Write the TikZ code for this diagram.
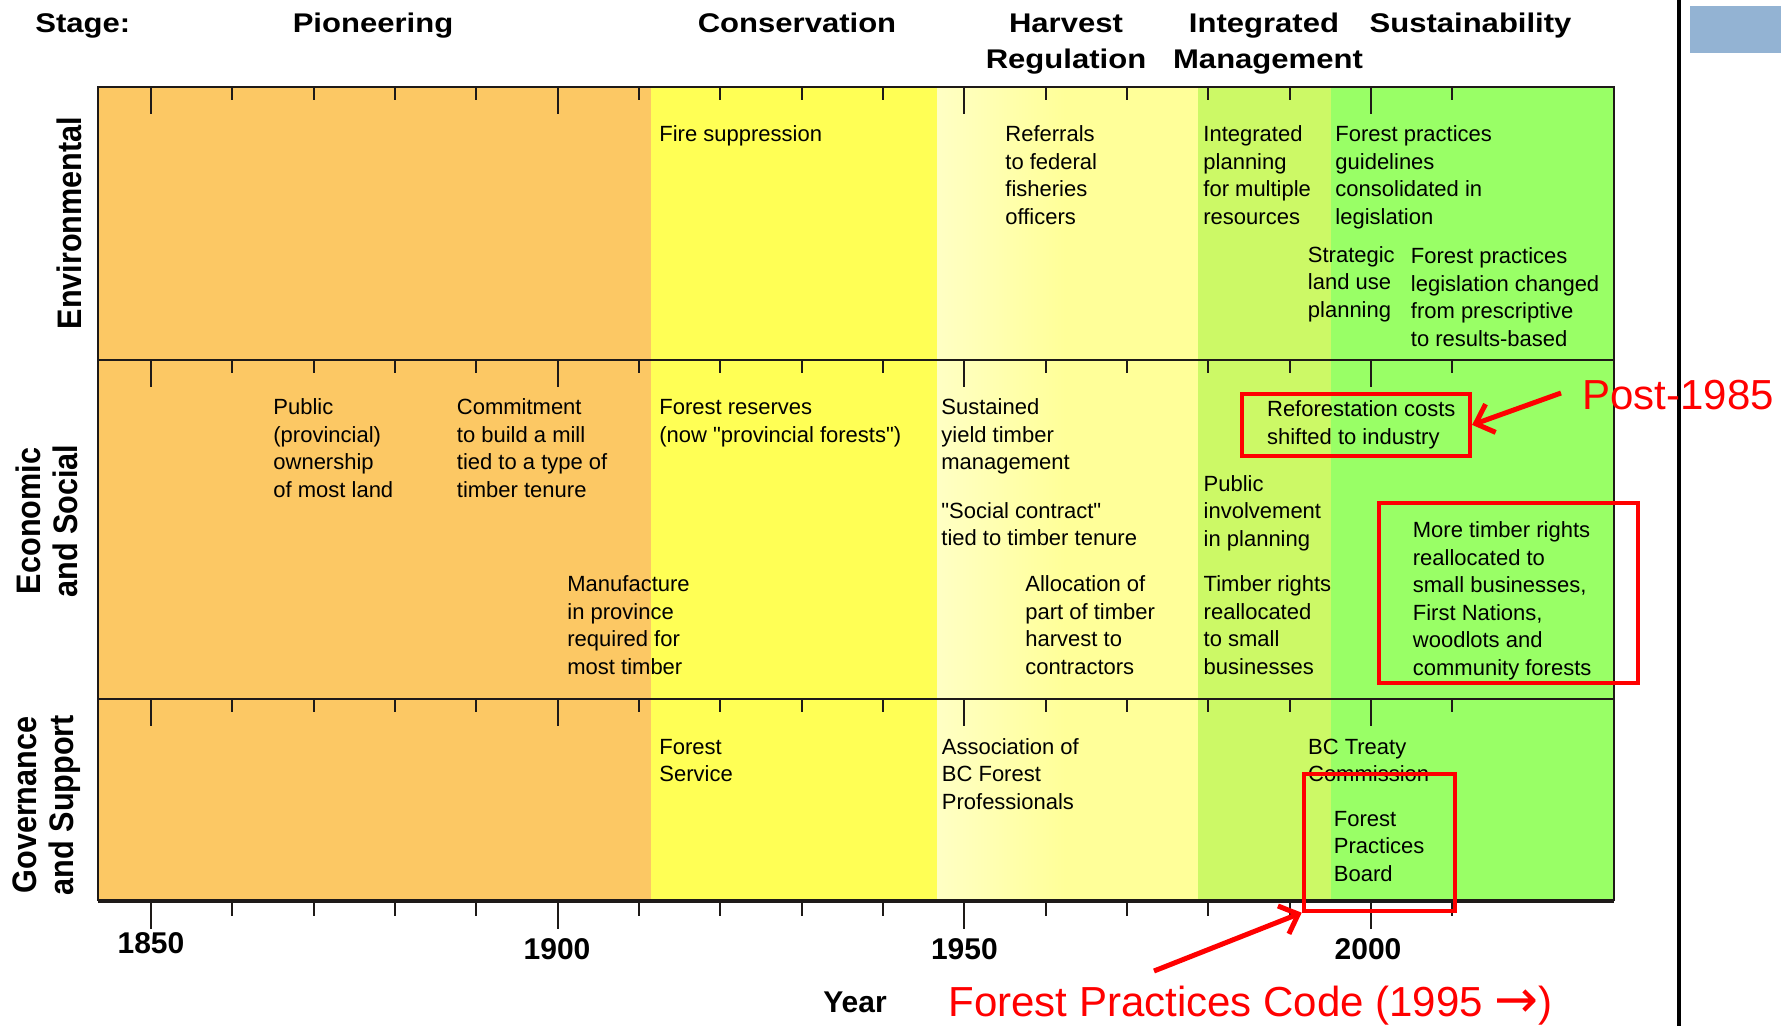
\documentclass[tikz,border=0pt]{standalone}
\usepackage{fontspec}
\usepackage{graphicx}
\setmainfont{Liberation Sans}
\newfontfamily\qfont{Liberation Sans}
\newfontfamily\stagefont{Liberation Sans}[FakeStretch=1.15]
\newfontfamily\rowfont{Liberation Sans}[FakeStretch=0.9]
\newfontfamily\arrowfont{DejaVu Sans}
\usetikzlibrary{arrows.meta}

\definecolor{pioneer}{HTML}{FCC864}
\definecolor{conserv}{HTML}{FFFF55}
\definecolor{harvestpale}{HTML}{FFFFC4}
\definecolor{harvest}{HTML}{FFFF99}
\definecolor{integr}{HTML}{CCF966}
\definecolor{sustain}{HTML}{99FF66}
\definecolor{axisline}{HTML}{1E1A18}
\definecolor{annot}{HTML}{FF0000}
\definecolor{sidebar}{HTML}{93B3D3}

% left-aligned block of lines whose baseline is that of its first line
\newcommand\evlines[1]{\begin{tabular}[t]{@{}l@{}}#1\end{tabular}}
% straight double quote (family without the TeX quote mapping)
\newcommand\sq{{\qfont"}}

\begin{document}
\begin{tikzpicture}[x=0.5pt,y=-0.5pt,
  evt/.style={anchor=base west, inner sep=0pt,
    font=\fontsize{11pt}{13.75pt}\selectfont},
  stagelbl/.style={anchor=base, inner sep=0pt,
    font=\stagefont\bfseries\fontsize{13.5pt}{16pt}\selectfont},
  rowlbl/.style={rotate=90, align=center, inner sep=0pt,
    font=\rowfont\bfseries\fontsize{17pt}{18.5pt}\selectfont},
  yearlbl/.style={anchor=base, inner sep=0pt,
    font=\bfseries\fontsize{15pt}{18pt}\selectfont},
  redbox/.style={draw=annot, line width=2pt, inner sep=0pt},
  redtxt/.style={text=annot, inner sep=0pt, anchor=base west,
    font=\fontsize{21pt}{25pt}\selectfont},
  redarrow/.style={draw=annot, line width=2.5pt,
    -{Straight Barb[length=8pt,width=15pt]}},
  frame/.style={draw=axisline, line width=1pt},
  tickmark/.style={draw=axisline, line width=1pt}
]
% canvas
\fill[white] (0,0) rectangle (1781,1026);
\useasboundingbox (0,0) rectangle (1781,1026);

% side bar of the slide
\fill[sidebar] (1690,6) rectangle (1781,53);
\draw[black, line width=1.6pt] (1679,0) -- (1679,1026);

% stage bands
\fill[pioneer] (97.7,87.5) rectangle (651,900.7);
\fill[conserv] (651,87.5) rectangle (937,900.7);
\shade[left color=harvestpale, right color=harvest] (937,87.5) rectangle (1065,900.7);
\fill[harvest] (1065,87.5) rectangle (1198,900.7);
\fill[integr] (1198,87.5) rectangle (1331,900.7);
\fill[sustain] (1331,87.5) rectangle (1614,900.7);

% ticks at the top of each row, one every ten years
\foreach \ytop in {87.5,360,698.5}{
  \foreach \yr in {1850,1860,...,2010}{
    \pgfmathsetmacro{\xx}{151+(\yr-1850)*8.132}
    \pgfmathsetmacro{\len}{mod(\yr,50)==0 ? 27 : 13}
    \draw[tickmark] (\xx,\ytop) -- (\xx,\ytop+\len);
  }
}
% ticks below the time axis
\foreach \yr in {1850,1860,...,2010}{
  \pgfmathsetmacro{\xx}{151+(\yr-1850)*8.132}
  \pgfmathsetmacro{\len}{mod(\yr,50)==0 ? 28 : 15}
  \draw[tickmark] (\xx,900.7) -- (\xx,900.7+\len);
}

% frame and row dividers
\draw[frame] (97.7,900.7) -- (97.7,87.5) -- (1614,87.5) -- (1614,900.7);
\draw[frame] (97.7,360) -- (1614,360);
\draw[frame] (97.7,698.5) -- (1614,698.5);
\draw[draw=axisline, line width=2pt] (97.7,900.7) -- (1614,900.7);

% stage headings
\node[anchor=base west, inner sep=0pt, font=\stagefont\bfseries\fontsize{13.5pt}{16pt}\selectfont] (stage) at (35,33) {Stage:};
\node[stagelbl] (pion) at (373,33) {Pioneering};
\node[stagelbl] (cons) at (797,33) {Conservation};
\node[stagelbl] (harv1) at (1066,33) {Harvest};
\node[stagelbl] (harv2) at (1066,69) {Regulation};
\node[stagelbl] (intg1) at (1264,32.5) {Integrated};
\node[stagelbl] (intg2) at (1268,69) {Management};
\node[stagelbl] (sust) at (1470.5,32.5) {Sustainability};

% row headings
\node[rowlbl] (envrow) at (69,223) {Environmental};
\node[rowlbl] (ecorow) at (47,521) {Economic\\and Social};
\node[rowlbl] (govrow) at (46.5,805) {Governance\\and Support};

% environmental events
\node[evt] (fire) at (659,142) {Fire suppression};
\node[evt] (referrals) at (1005,142) {\evlines{Referrals\\to federal\\fisheries\\officers}};
\node[evt] (intplan) at (1203,142) {\evlines{Integrated\\planning\\for multiple\\resources}};
\node[evt] (fpguide) at (1335,142) {\evlines{Forest practices\\guidelines\\consolidated in\\legislation}};
\node[evt] (strategic) at (1307.5,262.5) {\evlines{Strategic\\land use\\planning}};
\node[evt] (fplegis) at (1410.5,264) {\evlines{Forest practices\\legislation changed\\from prescriptive\\to results-based}};

% economic and social events
\node[evt] (public) at (273,415) {\evlines{Public\\(provincial)\\ownership\\of most land}};
\node[evt] (commit) at (456.5,415) {\evlines{Commitment\\to build a mill\\tied to a type of\\timber tenure}};
\node[evt] (reserves) at (659,415) {\evlines{Forest reserves\\(now \sq provincial forests\sq)}};
\node[evt] (sustained) at (941,415) {\evlines{Sustained\\yield timber\\management}};
\node[evt] (reforest) at (1266.7,416.7) {\evlines{Reforestation costs\\shifted to industry}};
\node[evt] (social) at (941,518.3) {\evlines{\sq Social contract\sq\\tied to timber tenure}};
\node[evt] (pubinv) at (1203.3,491) {\evlines{Public\\involvement\\in planning}};
\node[evt] (manuf) at (567,591.5) {\evlines{Manufacture\\in province\\required for\\most timber}};
\node[evt] (alloc) at (1025,591.5) {\evlines{Allocation of\\part of timber\\harvest to\\contractors}};
\node[evt] (timber) at (1203.3,591.5) {\evlines{Timber rights\\reallocated\\to small\\businesses}};
\node[evt] (moretimber) at (1412.5,537.5) {\evlines{More timber rights\\reallocated to\\small businesses,\\First Nations,\\woodlots and\\community forests}};

% governance and support events
\node[evt] (fs) at (659,754.3) {\evlines{Forest\\Service}};
\node[evt] (abcfp) at (941.5,754.3) {\evlines{Association of\\BC Forest\\Professionals}};
\node[evt] (bctc) at (1307.7,754.3) {\evlines{BC Treaty\\Commission}};
\node[evt] (fpboard) at (1333.5,826) {\evlines{Forest\\Practices\\Board}};

% time axis labels
\node[yearlbl] (y1850) at (151,953.3) {1850};
\node[yearlbl] (y1900) at (557,959.3) {1900};
\node[yearlbl] (y1950) at (964.4,959.3) {1950};
\node[yearlbl] (y2000) at (1368,959.3) {2000};
\node[yearlbl] (yearlbl) at (855,1012.7) {Year};

% highlighted items
\node[redbox, minimum width=114.2pt, minimum height=30.8pt] (refbox) at (1355.9,424.9) {};
\node[redbox, minimum width=129.2pt, minimum height=90.3pt] (tenurebox) at (1508.5,593) {};
\node[redbox, minimum width=75.7pt, minimum height=68.3pt] (fpbbox) at (1379.4,842.4) {};

\node[redtxt] (post) at (1582,409) {Post-1985};
\node[redtxt] (fpc) at (948,1016) {Forest Practices Code (1995 \raisebox{-0.5pt}{\scalebox{1.25}{\arrowfont →}})};

\coordinate (poststart) at (1561,393);
\coordinate (fpcstart) at (1154,971);
\draw[redarrow] (poststart) -- (refbox.east);
\draw[redarrow] (fpcstart) -- (fpbbox.south west);
\end{tikzpicture}
\end{document}
